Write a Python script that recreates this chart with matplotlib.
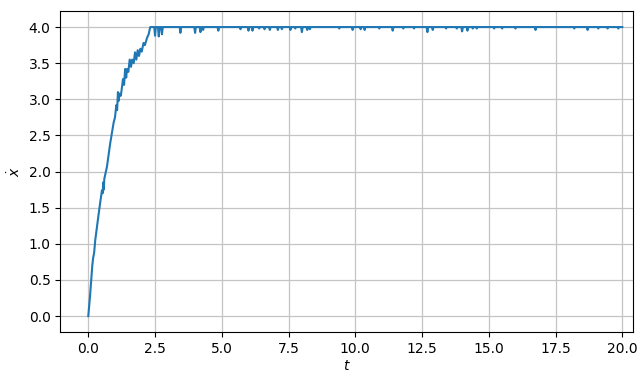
"""
Velocity x-dot over time t
"""

import matplotlib
matplotlib.use("Agg")
import matplotlib.pyplot as plt

# rise phase
rise_t = [0.0, 0.07, 0.12, 0.15, 0.18, 0.2, 0.22, 0.26, 0.39, 0.51, 0.54, 0.56,
          0.58, 0.6, 0.7, 0.82, 0.95, 1.0, 1.05, 1.08, 1.11, 1.14, 1.17, 1.22,
          1.3, 1.34, 1.38, 1.42, 1.45, 1.5, 1.55, 1.6, 1.64, 1.7, 1.75, 1.8,
          1.85, 1.9, 1.95, 2.0, 2.07, 2.12, 2.2, 2.26, 2.32]
rise_v = [0.0, 0.3, 0.55, 0.7, 0.8, 0.84, 0.88, 1.05, 1.42, 1.74, 1.70, 1.85,
          1.75, 1.9, 2.07, 2.39, 2.68, 2.75, 2.92, 2.85, 3.1, 2.98, 3.08, 3.05,
          3.28, 3.2, 3.42, 3.3, 3.42, 3.38, 3.55, 3.45, 3.55, 3.5, 3.65, 3.55,
          3.68, 3.6, 3.7, 3.66, 3.78, 3.75, 3.85, 3.9, 4.0]

# plateau level and the short dips below it
level = 4.0
dip_t = [2.5, 2.64, 2.76, 3.45, 4.0, 4.2, 4.3, 4.87, 5.7, 6.0, 6.15, 6.4, 6.6,
         6.8, 7.1, 7.25, 7.57, 7.75, 8.0, 8.2, 8.3, 9.4, 9.9, 10.2, 10.35,
         10.9, 11.4, 11.8, 12.2, 12.7, 12.9, 13.4, 13.8, 14.0, 14.2, 14.4,
         14.55, 15.2, 15.5, 16.0, 16.75, 18.2, 18.7, 19.1, 19.45, 19.85]
dip_v = [3.88, 3.87, 3.90, 3.92, 3.92, 3.93, 3.96, 3.95, 3.97, 3.95, 3.95,
         3.98, 3.97, 3.96, 3.96, 3.97, 3.96, 3.98, 3.93, 3.96, 3.97, 3.98,
         3.96, 3.97, 3.96, 3.98, 3.95, 3.98, 3.98, 3.93, 3.96, 3.98, 3.98,
         3.94, 3.95, 3.98, 3.98, 3.98, 3.98, 3.98, 3.96, 3.98, 3.96, 3.98,
         3.98, 3.98]
t_end = 20.0

ts = list(rise_t)
vs = list(rise_v)
for td, vd in zip(dip_t, dip_v):
    ts += [td - 0.03, td, td + 0.03]
    vs += [level, vd, level]
ts.append(t_end)
vs.append(level)

fig = plt.figure(figsize=(6.41, 3.72), dpi=100)
ax = fig.add_axes([0.094, 0.1075, 0.8935, 0.8625])
ax.plot(ts, vs, color='#1f77b4', linewidth=1.5)

ax.grid(True, color='#c4c4c4', linewidth=0.9)
ax.set_xlim(-1.05, 20.4)
ax.set_ylim(-0.22, 4.22)
ax.set_xticks([0, 2.5, 5, 7.5, 10, 12.5, 15, 17.5, 20])
ax.set_xlabel('$t$', labelpad=2)
ax.set_ylabel(r'$\dot{x}$')

fig.savefig('out.png', dpi=100)
